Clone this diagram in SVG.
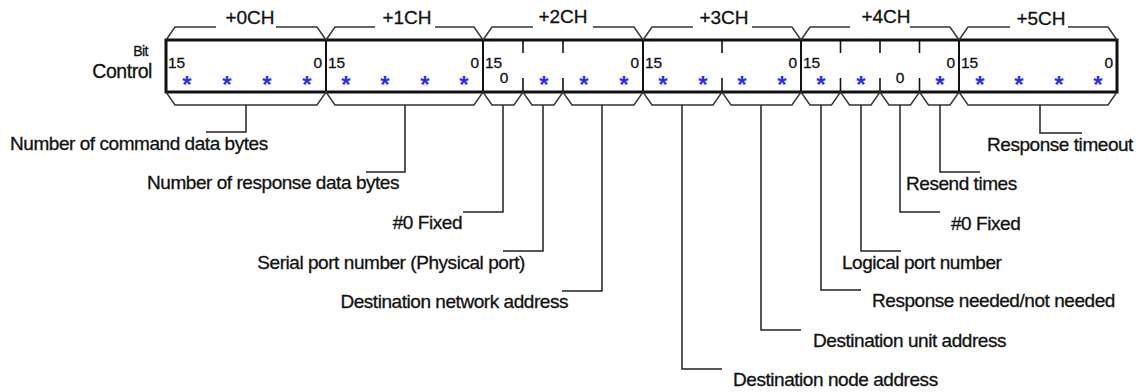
<svg xmlns="http://www.w3.org/2000/svg" width="1148" height="392" viewBox="0 0 1148 392">
<style>
text{font-family:"Liberation Sans",Arial,sans-serif;fill:#111;stroke:#111;stroke-width:0.3}
.lbl{font-size:19px;letter-spacing:-0.45px}
.hdr{font-size:19px;text-anchor:middle}
.bit{font-size:15.5px}
.e{text-anchor:end}
.m{text-anchor:middle}
.ast{font-size:24px;fill:#2a2aff;stroke:none;text-anchor:middle;font-weight:bold}
.brace{fill:none;stroke:#333;stroke-width:1.4}
.lead{fill:none;stroke:#222;stroke-width:1.5}
.tick{stroke:#111;stroke-width:1.6}
</style>
<rect width="1148" height="392" fill="#fff"/>
<g id="row-label">
<text x="148" y="56" class="e" style="font-size:14px;letter-spacing:-0.5px">Bit</text>
<text x="152" y="78" class="lbl e" style="font-size:19.5px">Control</text>
</g>
<g id="frame">
<rect x="166" y="40" width="951" height="52" fill="none" stroke="#111" stroke-width="3"/>
<path d="M326 40V92M483 40V92M643 40V92M801 40V92M959 40V92" stroke="#111" stroke-width="2"/>
<path class="tick" d="M523 40V53M523 78V92M563 40V53M563 78V92M722 40V53M722 78V92M840.5 40V53M840.5 78V92M880 40V53M880 78V92M919.5 40V53M919.5 78V92"/>
</g>
<g id="w0">
<path class="brace" d="M166 40L175 27H216M276 27H317L326 40"/>
<text x="250" y="24" class="hdr">+0CH</text>
<text x="168" y="68" class="bit">15</text><text x="322" y="68" class="bit e">0</text>
<text x="187" y="93" class="ast">*</text><text x="227" y="93" class="ast">*</text><text x="267" y="93" class="ast">*</text><text x="307" y="93" class="ast">*</text>
</g>
<g id="w1">
<path class="brace" d="M326 40L335 27H375M435 27H474L483 40"/>
<text x="407" y="24" class="hdr">+1CH</text>
<text x="328" y="68" class="bit">15</text><text x="479" y="68" class="bit e">0</text>
<text x="346" y="93" class="ast">*</text><text x="385" y="93" class="ast">*</text><text x="425" y="93" class="ast">*</text><text x="464" y="93" class="ast">*</text>
</g>
<g id="w2">
<path class="brace" d="M483 40L492 27H533M593 27H634L643 40"/>
<text x="563" y="23" class="hdr">+2CH</text>
<text x="485" y="68" class="bit">15</text><text x="639" y="68" class="bit e">0</text>
<text x="504" y="83" class="bit m">0</text>
<text x="544" y="93" class="ast">*</text><text x="584" y="93" class="ast">*</text><text x="624" y="93" class="ast">*</text>
</g>
<g id="w3">
<path class="brace" d="M643 40L652 27H693M752 27H792L801 40"/>
<text x="724" y="24" class="hdr">+3CH</text>
<text x="645" y="68" class="bit">15</text><text x="797" y="68" class="bit e">0</text>
<text x="663" y="93" class="ast">*</text><text x="703" y="93" class="ast">*</text><text x="742" y="93" class="ast">*</text><text x="782" y="93" class="ast">*</text>
</g>
<g id="w4">
<path class="brace" d="M801 40L810 27H850M910 27H950L959 40"/>
<text x="886" y="23" class="hdr">+4CH</text>
<text x="803" y="68" class="bit">15</text><text x="955" y="68" class="bit e">0</text>
<text x="821" y="93" class="ast">*</text><text x="861" y="93" class="ast">*</text>
<text x="900" y="83" class="bit m">0</text>
<text x="940" y="93" class="ast">*</text>
</g>
<g id="w5">
<path class="brace" d="M959 40L968 27H1010M1068 27H1108L1117 40"/>
<text x="1041" y="25" class="hdr">+5CH</text>
<text x="961" y="68" class="bit">15</text><text x="1113" y="68" class="bit e">0</text>
<text x="980" y="93" class="ast">*</text><text x="1019" y="93" class="ast">*</text><text x="1059" y="93" class="ast">*</text><text x="1098" y="93" class="ast">*</text>
</g>
<g id="bottom-braces">
<path class="brace" d="M166 92L175 105H317L326 92L335 105H474L483 92L492 105H514L523 92L532 105H554L563 92L572 105H634L643 92L652 105H713L722 92L731 105H792L801 92L810 105H831.5L840.5 92L849.5 105H871L880 92L889 105H910.5L919.5 92L928.5 105H950L959 92L968 105H1108L1117 92"/>
</g>
<g id="connectors">
<path class="lead" d="M246 105V132H206"/>
<path class="lead" d="M405 105V172H366"/>
<path class="lead" d="M503 105V212H463"/>
<path class="lead" d="M543 105V251H503"/>
<path class="lead" d="M602 105V291H562"/>
<path class="lead" d="M682 105V369H722"/>
<path class="lead" d="M761 105V330H801"/>
<path class="lead" d="M821 105V290H861"/>
<path class="lead" d="M861 105V251H901"/>
<path class="lead" d="M900 105V212H940"/>
<path class="lead" d="M940 105V172H980"/>
<path class="lead" d="M1040 105V133H1082"/>
</g>
<g id="labels">
<text x="10" y="150" class="lbl">Number of command data bytes</text>
<text x="147" y="189" class="lbl">Number of response data bytes</text>
<text x="462" y="229" class="lbl e">#0 Fixed</text>
<text x="525" y="269" class="lbl e">Serial port number (Physical port)</text>
<text x="568" y="308" class="lbl e">Destination network address</text>
<text x="733" y="386" class="lbl">Destination node address</text>
<text x="813" y="347" class="lbl">Destination unit address</text>
<text x="872" y="307" class="lbl">Response needed/not needed</text>
<text x="842" y="269" class="lbl">Logical port number</text>
<text x="951" y="230" class="lbl">#0 Fixed</text>
<text x="906" y="190" class="lbl">Resend times</text>
<text x="987" y="151" class="lbl">Response timeout</text>
</g>
</svg>
